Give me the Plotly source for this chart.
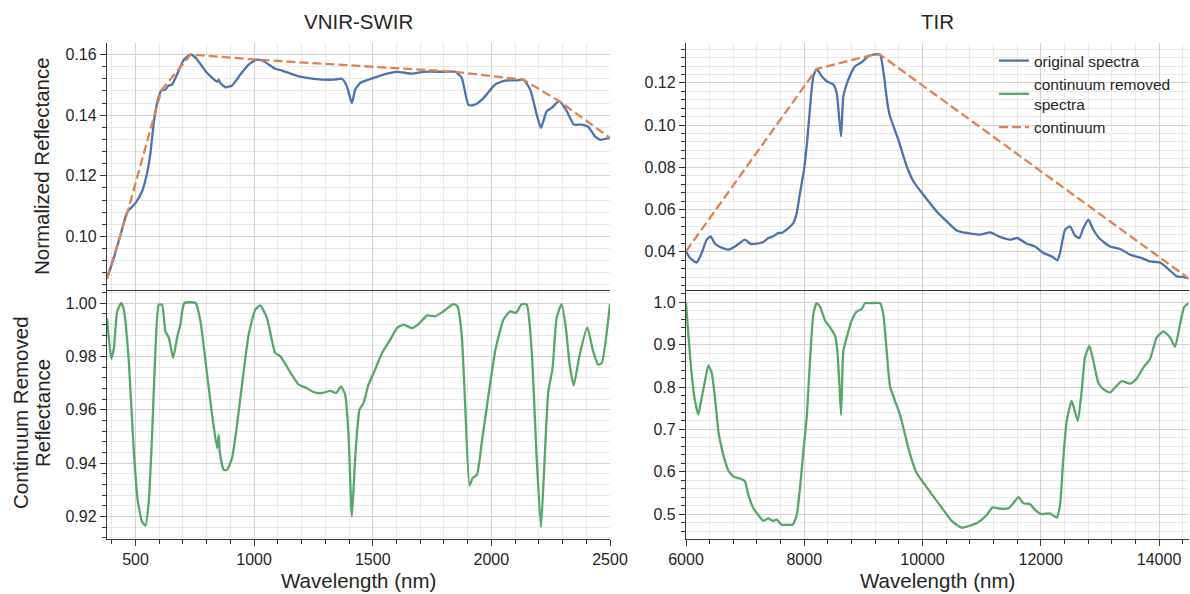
import plotly.graph_objects as go

# ---------------- data ----------------
vnir_wl = [380, 409, 437, 465, 500, 528, 549, 563, 577, 591, 609, 626, 640, 654, 675, 704, 733, 754,
           802, 845, 851, 857, 879, 907, 942, 977, 1012, 1040, 1089, 1118, 1188, 1251, 1335, 1370, 1391,
           1412, 1426, 1447, 1475, 1546, 1602, 1665, 1714, 1798, 1847, 1875, 1904, 1932, 1968, 2016,
           2058, 2107, 2135, 2164, 2191, 2209, 2233, 2254, 2286, 2318, 2348, 2381, 2409, 2437, 2458, 2500]
vnir_orig = [0.0862, 0.0930, 0.1005, 0.1080, 0.1110, 0.1149, 0.1209, 0.1275, 0.1374, 0.1440, 0.1482,
             0.1484, 0.1498, 0.1501, 0.1534, 0.1583, 0.1600, 0.1589, 0.1539, 0.1510, 0.1517, 0.1507,
             0.1492, 0.1498, 0.1534, 0.1567, 0.1583, 0.1578, 0.1553, 0.1547, 0.1528, 0.1520, 0.1517,
             0.1520, 0.1495, 0.1440, 0.1484, 0.1506, 0.1515, 0.1534, 0.1543, 0.1537, 0.1543, 0.1543,
             0.1543, 0.1523, 0.1433, 0.1435, 0.1457, 0.1501, 0.1514, 0.1515, 0.1517, 0.1484, 0.1402,
             0.1358, 0.1413, 0.1424, 0.1446, 0.1413, 0.1369, 0.1369, 0.1361, 0.1330, 0.1319, 0.1325]

vnir_hull_wl = [380, 470, 609, 733, 1012, 1847, 2135, 2286, 2500]
vnir_hull = [0.0862, 0.1090, 0.1482, 0.1600, 0.1583, 0.1543, 0.1517, 0.1446, 0.1325]

vnir_cr_wl = [380, 398, 409, 423, 440, 451, 472, 493, 510, 528, 542, 556, 570, 584, 598, 612, 626, 640,
              659, 675, 689, 706, 753, 774, 802, 823, 844, 851, 855, 872, 886, 907, 928, 949, 977, 1005,
              1026, 1054, 1089, 1111, 1146, 1188, 1216, 1251, 1286, 1321, 1346, 1366, 1384, 1398, 1412,
              1426, 1444, 1461, 1482, 1504, 1539, 1574, 1602, 1630, 1665, 1693, 1728, 1763, 1798, 1840,
              1857, 1875, 1889, 1908, 1921, 1939, 1960, 1988, 2016, 2051, 2079, 2104, 2128, 2149, 2170,
              2191, 2209, 2226, 2240, 2258, 2275, 2296, 2314, 2330, 2347, 2372, 2404, 2429, 2450, 2465, 2500]
vnir_cr = [0.9944, 0.9791, 0.9831, 0.9969, 1.0000, 0.9975, 0.9781, 0.9444, 0.9256, 0.9181, 0.9166,
           0.9256, 0.9506, 0.9819, 0.9994, 0.9994, 0.9894, 0.9871, 0.9794, 0.9869, 0.9919, 1.0000,
           1.0000, 0.9931, 0.9731, 0.9581, 0.9456, 0.9506, 0.9444, 0.9375, 0.9375, 0.9419, 0.9544,
           0.9694, 0.9881, 0.9975, 0.9991, 0.9944, 0.9813, 0.9800, 0.9750, 0.9694, 0.9684, 0.9666,
           0.9663, 0.9671, 0.9663, 0.9688, 0.9656, 0.9506, 0.9200, 0.9419, 0.9600, 0.9625, 0.9694,
           0.9738, 0.9813, 0.9863, 0.9906, 0.9919, 0.9906, 0.9921, 0.9953, 0.9950, 0.9969, 0.9996,
           0.9988, 0.9881, 0.9631, 0.9316, 0.9344, 0.9356, 0.9481, 0.9656, 0.9819, 0.9938, 0.9969,
           0.9963, 0.9996, 0.9994, 0.9819, 0.9419, 0.9159, 0.9444, 0.9669, 0.9756, 0.9944, 0.9996,
           0.9906, 0.9769, 0.9691, 0.9806, 0.9909, 0.9819, 0.9769, 0.9775, 0.9996]

tir_wl = [6000, 6068, 6180, 6265, 6350, 6417, 6490, 6575, 6716, 6829, 6998, 7082, 7195, 7308, 7393,
          7477, 7562, 7618, 7731, 7815, 7872, 7928, 7996, 8052, 8109, 8154, 8210, 8295, 8379, 8492,
          8548, 8588, 8622, 8661, 8706, 8774, 8859, 8971, 9084, 9169, 9281, 9349, 9405, 9450, 9591,
          9732, 9845, 10014, 10240, 10409, 10578, 10747, 10973, 11142, 11311, 11480, 11604, 11762,
          11903, 12044, 12185, 12281, 12326, 12410, 12495, 12580, 12653, 12720, 12805, 12889, 13002,
          13171, 13341, 13510, 13707, 13848, 14017, 14158, 14299, 14412, 14500]
tir_orig = [0.0402, 0.0370, 0.0349, 0.0394, 0.0457, 0.0473, 0.0438, 0.0422, 0.0410, 0.0425, 0.0457,
            0.0438, 0.0438, 0.0446, 0.0465, 0.0473, 0.0489, 0.0489, 0.0512, 0.0536, 0.0583, 0.0678,
            0.0789, 0.0931, 0.1121, 0.1232, 0.1266, 0.1232, 0.1208, 0.1192, 0.1153, 0.1042, 0.0947,
            0.1137, 0.1184, 0.1235, 0.1279, 0.1298, 0.1326, 0.1334, 0.1334, 0.1232, 0.1105, 0.1042,
            0.0931, 0.0805, 0.0734, 0.0670, 0.0591, 0.0544, 0.0501, 0.0489, 0.0481, 0.0492, 0.0470,
            0.0457, 0.0465, 0.0438, 0.0425, 0.0394, 0.0378, 0.0359, 0.0394, 0.0504, 0.0520, 0.0476,
            0.0465, 0.0512, 0.0552, 0.0504, 0.0460, 0.0425, 0.0413, 0.0386, 0.0370, 0.0354, 0.0349,
            0.0318, 0.0283, 0.0280, 0.0274]

tir_hull_wl = [6000, 8210, 9169, 9281, 14500]
tir_hull = [0.0402, 0.1266, 0.1334, 0.1334, 0.0274]

tir_cr_wl = [6000, 6039, 6096, 6152, 6209, 6265, 6321, 6378, 6434, 6490, 6547, 6603, 6660, 6716, 6801,
             6913, 6998, 7054, 7139, 7223, 7308, 7393, 7466, 7533, 7618, 7703, 7804, 7872, 7928, 7985,
             8041, 8097, 8154, 8210, 8266, 8351, 8436, 8520, 8560, 8594, 8622, 8661, 8718, 8802, 8887,
             8971, 9028, 9112, 9281, 9337, 9394, 9450, 9535, 9619, 9704, 9789, 9901, 10042, 10183,
             10352, 10493, 10662, 10803, 10944, 11085, 11186, 11311, 11452, 11536, 11621, 11706,
             11818, 11903, 12016, 12157, 12270, 12326, 12382, 12439, 12523, 12625, 12692, 12748,
             12822, 12889, 12974, 13058, 13171, 13256, 13369, 13510, 13611, 13735, 13848, 13961,
             14074, 14186, 14271, 14356, 14423, 14500]
tir_cr = [1.000, 0.925, 0.830, 0.767, 0.735, 0.775, 0.814, 0.851, 0.834, 0.775, 0.696, 0.656, 0.625,
          0.603, 0.589, 0.584, 0.577, 0.546, 0.514, 0.498, 0.484, 0.490, 0.484, 0.487, 0.475, 0.475,
          0.475, 0.498, 0.562, 0.648, 0.727, 0.862, 0.972, 0.998, 0.990, 0.957, 0.941, 0.921, 0.885,
          0.806, 0.734, 0.885, 0.917, 0.957, 0.978, 0.984, 0.998, 0.998, 0.998, 0.972, 0.885, 0.802,
          0.767, 0.735, 0.688, 0.641, 0.597, 0.569, 0.542, 0.510, 0.484, 0.468, 0.473, 0.481, 0.498,
          0.516, 0.513, 0.514, 0.526, 0.540, 0.526, 0.524, 0.510, 0.500, 0.502, 0.492, 0.522, 0.633,
          0.720, 0.767, 0.720, 0.791, 0.870, 0.897, 0.862, 0.810, 0.795, 0.787, 0.799, 0.814, 0.808,
          0.818, 0.846, 0.866, 0.917, 0.931, 0.917, 0.895, 0.949, 0.988, 0.998]

panel_titles = ["VNIR-SWIR", "TIR"]
x_title = "Wavelength (nm)"
legend_names = ["original spectra", "continuum removed<br>spectra", "continuum"]

# ---------------- style ----------------
W, H = 1190, 594
BLUE, GREEN, ORANGE = "#4C72B0", "#55A868", "#DD8452"
FONT = "Liberation Sans, Arial, sans-serif"
TXT = "#262626"
SPINE = "#363636"
GRID_MAJ = "#d2d2d2"
GRID_MIN = "#e9e9e9"
TICK_FS = 16
LABEL_FS = 20.5


def px_x(p):
    return p / W


def px_y(p):
    return 1 - p / H


left_dom = [px_x(107), px_x(610)]
right_dom = [px_x(686), px_x(1188.6)]
top_dom = [px_y(289.5), px_y(43)]
bot_dom = [px_y(539), px_y(291)]

fig = go.Figure()
line_w = 2.3

fig.add_trace(go.Scatter(x=vnir_wl, y=vnir_orig, mode="lines", name=legend_names[0], legendrank=1,
                         line=dict(color=BLUE, width=line_w, shape="spline", smoothing=0.5),
                         xaxis="x", yaxis="y"))
fig.add_trace(go.Scatter(x=vnir_hull_wl, y=vnir_hull, mode="lines", name=legend_names[2], legendrank=3,
                         line=dict(color=ORANGE, width=line_w, dash="9px,4px"),
                         xaxis="x", yaxis="y"))
fig.add_trace(go.Scatter(x=vnir_cr_wl, y=vnir_cr, mode="lines", name=legend_names[1], legendrank=2,
                         line=dict(color=GREEN, width=line_w, shape="spline", smoothing=0.5),
                         xaxis="x3", yaxis="y3"))
fig.add_trace(go.Scatter(x=tir_wl, y=tir_orig, mode="lines", showlegend=False,
                         line=dict(color=BLUE, width=line_w, shape="spline", smoothing=0.5),
                         xaxis="x2", yaxis="y2"))
fig.add_trace(go.Scatter(x=tir_hull_wl, y=tir_hull, mode="lines", showlegend=False,
                         line=dict(color=ORANGE, width=line_w, dash="9px,4px"),
                         xaxis="x2", yaxis="y2"))
fig.add_trace(go.Scatter(x=tir_cr_wl, y=tir_cr, mode="lines", showlegend=False,
                         line=dict(color=GREEN, width=line_w, shape="spline", smoothing=0.5),
                         xaxis="x4", yaxis="y4"))


def axis(domain, anchor, rng, dtick, minor_dtick, fmt=None, labels=True, ticks=True):
    d = dict(domain=domain, anchor=anchor, range=rng, dtick=dtick, tick0=0, automargin=False,
             showline=True, linecolor=SPINE, linewidth=1.3, zeroline=False,
             showgrid=True, gridcolor=GRID_MAJ, gridwidth=1.2,
             ticks="outside" if ticks else "", ticklen=6, tickwidth=1.2, tickcolor=SPINE,
             showticklabels=labels, tickfont=dict(family=FONT, size=TICK_FS, color=TXT),
             minor=dict(dtick=minor_dtick, tick0=0, ticks="outside" if ticks else "", ticklen=3.5,
                        tickwidth=1, tickcolor=SPINE, showgrid=True, gridcolor=GRID_MIN, gridwidth=1))
    if fmt:
        d["tickformat"] = fmt
    return d


fig.update_layout(
    width=W, height=H, margin=dict(l=0, r=0, t=0, b=0, autoexpand=False),
    paper_bgcolor="white", plot_bgcolor="white",
    font=dict(family=FONT, color=TXT),
    xaxis=axis(left_dom, "y", [380, 2500], 500, 100, "d", labels=False, ticks=False),
    yaxis=axis(top_dom, "x", [0.0825, 0.1638], 0.02, 0.004, ".2f"),
    xaxis2=axis(right_dom, "y2", [6000, 14500], 2000, 400, "d", labels=False, ticks=False),
    yaxis2=axis(top_dom, "x2", [0.0221, 0.1389], 0.02, 0.004, ".2f"),
    xaxis3=axis(left_dom, "y3", [380, 2500], 500, 100, "d"),
    yaxis3=axis(bot_dom, "x3", [0.9116, 1.0045], 0.02, 0.004, ".2f"),
    xaxis4=axis(right_dom, "y4", [6000, 14500], 2000, 400, "d"),
    yaxis4=axis(bot_dom, "x4", [0.4414, 1.0266], 0.1, 0.02, ".1f"),
    legend=dict(x=px_x(994), y=px_y(44), xanchor="left", yanchor="top",
                bgcolor="rgba(0,0,0,0)", font=dict(family=FONT, size=15.5, color=TXT),
                tracegroupgap=0, itemwidth=30),
)

ann = []
for cx, t in ((358.5, panel_titles[0]), (937, panel_titles[1])):
    ann.append(dict(text=t, x=px_x(cx), y=px_y(21), xref="paper", yref="paper",
                    showarrow=False, font=dict(family=FONT, size=LABEL_FS, color=TXT),
                    xanchor="center", yanchor="middle"))
for cx in (358.5, 937):
    ann.append(dict(text=x_title, x=px_x(cx), y=px_y(580), xref="paper", yref="paper",
                    showarrow=False, font=dict(family=FONT, size=LABEL_FS, color=TXT),
                    xanchor="center", yanchor="middle"))
ann.append(dict(text="Normalized Reflectance", x=px_x(42), y=px_y(166), xref="paper", yref="paper",
                showarrow=False, textangle=-90, font=dict(family=FONT, size=LABEL_FS, color=TXT),
                xanchor="center", yanchor="middle"))
ann.append(dict(text="Continuum Removed", x=px_x(20), y=px_y(413), xref="paper", yref="paper",
                showarrow=False, textangle=-90, font=dict(family=FONT, size=LABEL_FS, color=TXT),
                xanchor="center", yanchor="middle"))
ann.append(dict(text="Reflectance", x=px_x(42), y=px_y(413), xref="paper", yref="paper",
                showarrow=False, textangle=-90, font=dict(family=FONT, size=LABEL_FS, color=TXT),
                xanchor="center", yanchor="middle"))
fig.update_layout(annotations=ann)

fig.write_html("out.html")
